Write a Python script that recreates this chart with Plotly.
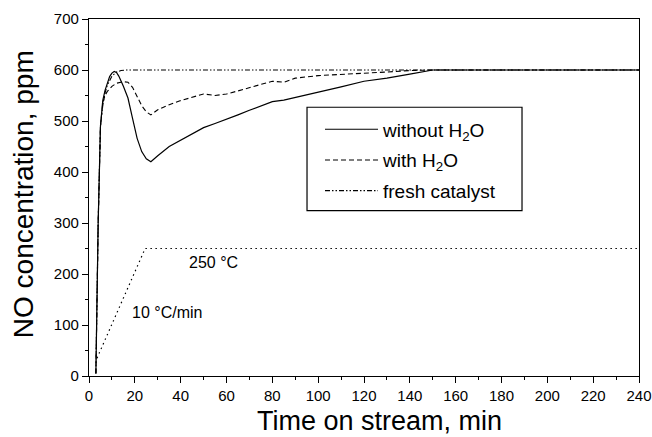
import plotly.graph_objects as go

# NO outlet concentration (ppm) versus time on stream (min)
time_without_h2o = [3, 4, 5, 5.5, 6, 7, 8, 9, 10, 11, 12, 13, 15, 17, 19, 21, 23, 25, 27,
                    30, 35, 40, 45, 50, 55, 60, 65, 70, 75, 80, 85, 90, 100, 110, 120,
                    130, 140, 150, 240]
no_without_h2o = [5, 300, 490, 525, 540, 560, 575, 587, 594, 597, 595, 588, 568, 545, 505,
                  466, 440, 426, 420, 432, 450, 462, 475, 487, 495, 503, 512, 521, 530,
                  538, 541, 546, 556, 567, 578, 584, 592, 600, 600]

time_with_h2o = [3, 4, 5, 5.5, 6, 7, 8, 10, 12, 15, 17, 19, 21, 23, 25, 27, 30, 35, 40,
                 45, 50, 55, 60, 65, 70, 75, 80, 85, 90, 100, 110, 120, 130, 140, 150, 240]
no_with_h2o = [5, 300, 490, 520, 535, 550, 558, 568, 574, 577, 576, 566, 548, 530, 518,
               512, 522, 532, 540, 547, 553, 550, 553, 559, 565, 572, 578, 576, 584, 589,
               591, 593, 596, 599, 600, 600]

time_fresh = [3, 4, 5, 6, 7, 8, 10, 12, 14, 16, 240]
no_fresh = [5, 300, 490, 530, 555, 570, 588, 596, 599, 600, 600]

# Temperature programme: 10 °C/min ramp up to 250 °C, then hold
time_temp = [3.5, 24.5, 240]
temp_c = [35, 250, 250]

x_ticks = list(range(0, 241, 20))
y_ticks = list(range(0, 701, 100))

FONT = "Liberation Sans, Arial, Helvetica, sans-serif"

fig = go.Figure()
fig.add_trace(go.Scatter(x=time_without_h2o, y=no_without_h2o, mode="lines",
                         name="without H<sub>2</sub>O", legendgroup="a",
                         line=dict(color="black", width=1.2)))
fig.add_trace(go.Scatter(x=time_with_h2o, y=no_with_h2o, mode="lines",
                         name="with H<sub>2</sub>O", legendgroup="b",
                         line=dict(color="black", width=1.1, dash="5px,3px")))
fig.add_trace(go.Scatter(x=time_fresh, y=no_fresh, mode="lines",
                         name="fresh catalyst", legendgroup="c",
                         line=dict(color="black", width=1.1,
                                   dash="5px,2px,1.5px,2px,1.5px,2px")))
fig.add_trace(go.Scatter(x=time_temp, y=temp_c, mode="lines", showlegend=False,
                         line=dict(color="black", width=1.2, dash="1.5px,3.5px")))

# Temperature programme labels
fig.add_annotation(x=54.5, y=222, text="250 °C", showarrow=False,
                   font=dict(family=FONT, size=16, color="black"))
fig.add_annotation(x=34, y=124, text="10 °C/min", showarrow=False,
                   font=dict(family=FONT, size=16, color="black"))

# Axis titles
fig.add_annotation(xref="paper", yref="paper", x=0.529, y=-0.125, text="Time on stream, min",
                   showarrow=False, xanchor="center", yanchor="middle",
                   font=dict(family=FONT, size=27, color="black"))
fig.add_annotation(xref="paper", yref="paper", x=-0.119, y=0.508,
                   text="NO concentration, ppm", textangle=-90,
                   showarrow=False, xanchor="center", yanchor="middle",
                   font=dict(family=FONT, size=28, color="black"))

# Legend frame
fig.add_shape(type="rect", xref="paper", yref="paper",
              x0=0.3964, x1=0.7873, y0=0.4635, y1=0.7528,
              line=dict(color="black", width=1.2), fillcolor="white", layer="below")

axis_common = dict(showgrid=False, zeroline=False, showline=True, linecolor="black",
                   linewidth=1.2, mirror=True, ticks="outside", tickcolor="black",
                   ticklen=6, tickwidth=1.2, automargin=False,
                   tickfont=dict(family=FONT, size=15, color="black"))

fig.update_xaxes(range=[0, 240], tickvals=x_ticks,
                 minor=dict(dtick=10, ticks="outside", ticklen=3, tickcolor="black",
                            tickwidth=1.2),
                 **axis_common)
fig.update_yaxes(range=[0, 700], tickvals=y_ticks,
                 minor=dict(dtick=50, ticks="outside", ticklen=3, tickcolor="black",
                            tickwidth=1.2),
                 **axis_common)

fig.update_layout(
    width=652, height=437,
    margin=dict(l=89, r=13, t=19, b=61),
    paper_bgcolor="white", plot_bgcolor="rgba(0,0,0,0)",
    showlegend=True,
    legend=dict(x=0.42, y=0.744, xanchor="left", yanchor="top",
                borderwidth=0, bgcolor="rgba(0,0,0,0)",
                font=dict(family=FONT, size=19, color="black"),
                tracegroupgap=3, itemwidth=53),
)

fig.write_html("out.html")
